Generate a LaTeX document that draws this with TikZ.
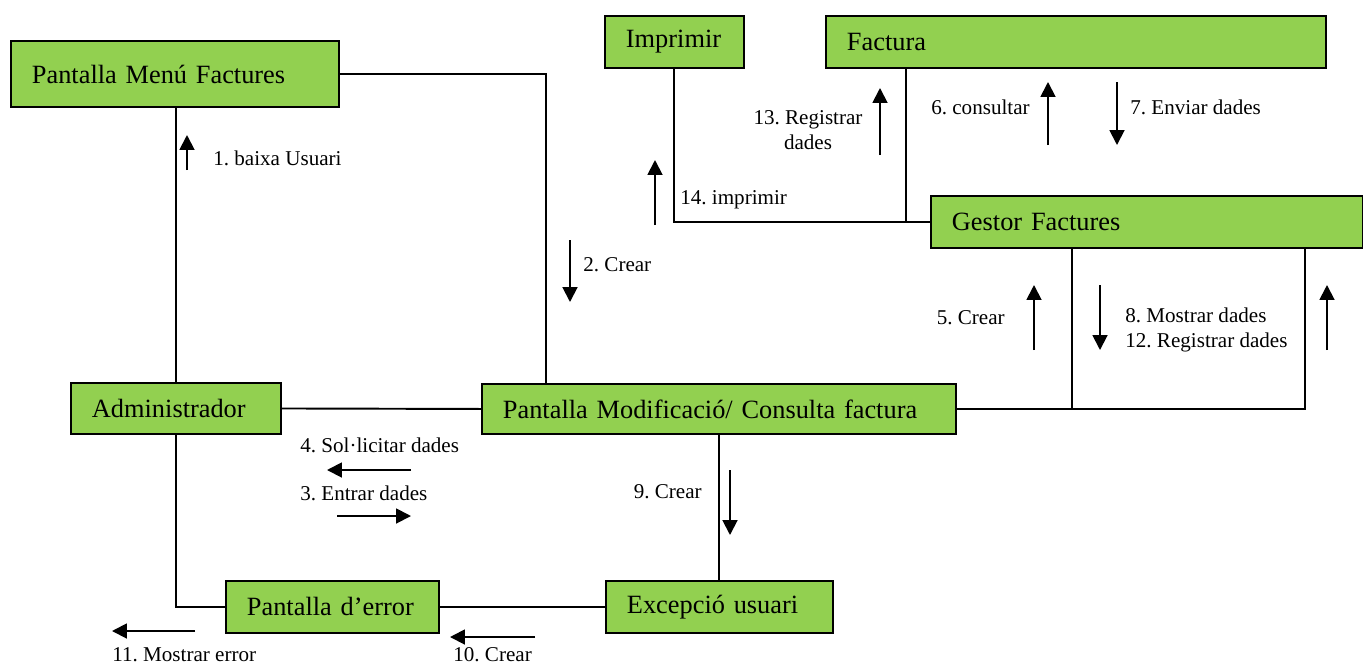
\documentclass[tikz,border=0pt]{standalone}
\usepackage{fontspec}
\setmainfont{Liberation Serif}
\usepackage{tikz}
\usetikzlibrary{calc}
\usetikzlibrary{positioning}
\usetikzlibrary{arrows.meta}

\definecolor{boxgreen}{RGB}{146,208,80}

\begin{document}
\frenchspacing
\begin{tikzpicture}[x=0.02cm, y=-0.02cm]
    \tikzstyle{box}=[draw, fill=boxgreen, line width=1.1pt, anchor=north west,
      inner xsep=0.42cm, inner ysep=0pt, minimum height=1.04cm, align=left,
      font=\fontsize{15}{17}\selectfont, text width=#1]
    \tikzstyle{link}=[line width=1.1pt]
    \tikzstyle{msg}=[line width=1.1pt, -{Triangle[length=8.5pt, width=8.5pt]}]
    \tikzstyle{lbl}=[font=\fontsize{12}{14}\selectfont, inner sep=0pt]

    \useasboundingbox (0,0) rectangle (1363,664);

    % Objects
    \node[box=5.72cm, minimum height=1.32cm] (menu) at (10,40) {Pantalla Menú Factures};
    \node[box=1.94cm] (imprimir) at (604,15) {Imprimir};
    \node[box=9.16cm] (factura) at (825,15) {Factura};
    \node[box=7.8cm] (gestor) at (930,195) {Gestor Factures};
    \node[box=3.36cm, minimum height=1.02cm] (admin) at (70,382) {Administrador};
    \node[box=8.64cm, minimum height=1.0cm] (modif) at (481,383) {Pantalla Modificació/ Consulta factura};
    \node[box=3.42cm] (error) at (225,580) {Pantalla d’error};
    \node[box=3.7cm] (excep) at (605,580) {Excepció usuari};

    % Links
    \draw[link] (admin.north) -- (admin.north |- menu.south);
    \draw[link] (menu.east) -| ($(modif.north west)+(65,0)$);
    \draw[link] (admin.east) -- (modif.west);
    \draw[link] (imprimir.south) |- (gestor.west);
    \coordinate (fac) at ($(factura.south west)+(81,0)$);
    \draw[link] (fac) -- (fac |- gestor.west);
    \coordinate (g1) at ($(gestor.south west)+(142,0)$);
    \coordinate (g2) at ($(gestor.south west)+(375,0)$);
    \draw[link] (modif.east) -| (g1);
    \draw[link] (g1 |- modif.east) -| (g2);
    \draw[link] (excep.north) -- (excep.north |- modif.south);
    \draw[link] (excep.west) -- (error.east);
    \draw[link] (admin.south) |- (error.west);

    % Messages
    \draw[msg] (187,170) -- (187,135);
    \node[lbl, anchor=west] (m1) at (213,158) {1. baixa Usuari};
    \draw[msg] (570,240) -- (570,302);
    \node[lbl, anchor=west] (m2) at (583,265) {2. Crear};
    \draw[msg] (337,516) -- (411,516);
    \node[lbl, anchor=west] (m3) at (300,493) {3. Entrar dades};
    \draw[msg] (411,470) -- (327,470);
    \node[lbl, anchor=west] (m4) at (300,445) {4. Sol·licitar dades};
    \draw[msg] (1034,350) -- (1034,285);
    \node[lbl, anchor=east] (m5) at (1005,318) {5. Crear};
    \draw[msg] (1048,145) -- (1048,82);
    \node[lbl, anchor=east] (m6) at (1030,107) {6. consultar};
    \draw[msg] (1117,82) -- (1117,145);
    \node[lbl, anchor=west] (m7) at (1130,107) {7. Enviar dades};
    \draw[msg] (1100,285) -- (1100,350);
    \node[lbl, anchor=west, align=left] (m8) at (1125,330) {8. Mostrar dades\\12. Registrar dades};
    \draw[msg] (1327,350) -- (1327,285);
    \draw[msg] (730,470) -- (730,535);
    \node[lbl, anchor=east] (m9) at (702,492) {9. Crear};
    \draw[msg] (535,637) -- (450,637);
    \node[lbl, anchor=west] (m10) at (453,655) {10. Crear};
    \draw[msg] (195,631) -- (112,631);
    \node[lbl, anchor=west] (m11) at (112,655) {11. Mostrar error};
    \draw[msg] (880,155) -- (880,88);
    \node[lbl, align=center] (m13) at (808,130) {13. Registrar\\dades};
    \draw[msg] (655,225) -- (655,160);
    \node[lbl, anchor=west] (m14) at (680,200) {14. imprimir};
\end{tikzpicture}
\end{document}
